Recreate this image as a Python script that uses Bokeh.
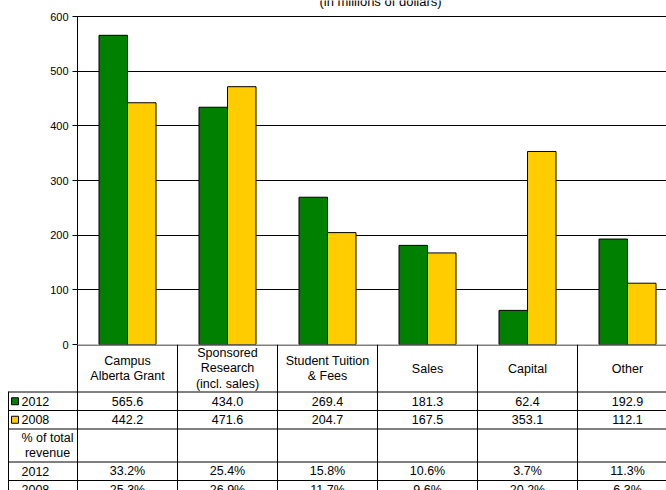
import numpy as np
from bokeh.plotting import figure
from bokeh.models import ColumnDataSource, Range1d, FixedTicker, Label
from bokeh.transform import dodge
from bokeh.core.properties import value
from bokeh.embed import file_html
from bokeh.resources import INLINE

# ---------------- data ----------------
categories = ["Campus\nAlberta Grant", "Sponsored\nResearch\n(incl. sales)",
              "Student Tuition\n& Fees", "Sales", "Capital", "Other"]
series_names = ["2012", "2008"]
values_2012 = [565.6, 434.0, 269.4, 181.3, 62.4, 192.9]
values_2008 = [442.2, 471.6, 204.7, 167.5, 353.1, 112.1]
pct_2012 = [33.2, 25.4, 15.8, 10.6, 3.7, 11.3]
pct_2008 = [25.3, 26.9, 11.7, 9.6, 20.2, 6.3]
y_ticks = [0, 100, 200, 300, 400, 500, 600]
title_text = "(in millions of dollars)"
pct_header = "% of total\nrevenue"
colors = ["#008000", "#FFCC00"]

# ---------------- layout constants ----------------
FONT = "Liberation Sans"
W = 666
BASE = 344         # screen y of value 0
TOP_PX = 16        # screen y of top tick
BOT_H = 146
LEFT = 77          # screen x of axis
CAT_W = 100.0      # px per category
n = len(categories)
ymax = max(y_ticks)
u_per_px = ymax / (BASE - TOP_PX)
x_end = (W - LEFT) / CAT_W

# ---------------- chart (drawn over the table, transparent) ----------------
top = figure(width=W, height=BASE + 8, output_backend="svg", toolbar_location=None,
             x_range=Range1d(-1 / CAT_W, x_end),
             y_range=Range1d(0, ymax + TOP_PX * u_per_px),
             x_axis_location=None, min_border_left=LEFT - 1, min_border_right=0,
             min_border_top=0, min_border_bottom=8)
top.outline_line_color = None
top.background_fill_color = None
top.border_fill_color = None
top.xgrid.visible = False
top.ygrid.grid_line_color = "black"
top.ygrid.grid_line_width = 1
ax = top.yaxis[0]
ax.ticker = FixedTicker(ticks=y_ticks)
ax.major_tick_out = 4
ax.major_tick_in = 1
ax.minor_tick_line_color = None
ax.axis_line_color = None
ax.major_tick_line_color = "black"
ax.major_label_text_font = FONT
ax.major_label_text_font_size = "11px"
ax.major_label_text_color = "black"
ax.major_label_standoff = 4

# axis line from 0 to the top tick
top.segment(x0=[0], y0=[0], x1=[0], y1=[ymax], line_color="black", line_width=1)

src = ColumnDataSource(dict(x=np.arange(n) + 0.5, v12=values_2012, v08=values_2008))
bw = 0.285
top.vbar(x=dodge("x", -bw / 2), top="v12", bottom=0, width=bw, source=src,
         fill_color=colors[0], line_color="black", line_width=1)
top.vbar(x=dodge("x", bw / 2), top="v08", bottom=0, width=bw, source=src,
         fill_color=colors[1], line_color="black", line_width=1)

title_y = ymax + (TOP_PX - 1) * u_per_px
top.add_layout(Label(x=(380 - LEFT) / CAT_W, y=title_y, text=title_text,
                     text_font=FONT, text_font_size="13px", text_color="black",
                     text_align="center", text_baseline="alphabetic"))

# ---------------- data table ----------------
bot = figure(width=W, height=BOT_H, output_backend="svg", toolbar_location=None,
             x_range=Range1d(-LEFT / CAT_W, x_end), y_range=Range1d(BOT_H, 0),
             x_axis_location=None, y_axis_location=None,
             min_border_left=0, min_border_right=0, min_border_top=0, min_border_bottom=0)
bot.outline_line_color = None
bot.grid.visible = False

header_h, row_h, pct_h = 47.0, 18.5, 33.0
edges = [0, header_h]
for h in [row_h, row_h, pct_h, row_h, row_h]:
    edges.append(edges[-1] + h)
left_edge = (8 - LEFT) / CAT_W

hx0 = [0.0] + [left_edge] * (len(edges) - 1)
hy = [e + 0.5 for e in edges]
bot.segment(x0=hx0, y0=hy, x1=[x_end] * len(hy), y1=hy, line_color="black", line_width=1)
vx = [left_edge] + list(range(n))
vy0 = [edges[1]] + [0.0] * n
bot.segment(x0=vx, y0=vy0, x1=vx, y1=[BOT_H] * len(vx), line_color="black", line_width=1)

txt = dict(text_font=value(FONT), text_font_size="12.5px", text_color="black")
cx = np.arange(n) + 0.5
bot.text(x=cx, y=[header_h / 2 + 0.5] * n, text=categories, text_align="center",
         text_baseline="middle", text_line_height=1.1, **txt)

def mid(i):
    return (edges[i] + edges[i + 1]) / 2 + 0.5

bot.text(x=cx, y=[mid(1)] * n, text=[f"{v:.1f}" for v in values_2012],
         text_align="center", text_baseline="middle", **txt)
bot.text(x=cx, y=[mid(2)] * n, text=[f"{v:.1f}" for v in values_2008],
         text_align="center", text_baseline="middle", **txt)
bot.text(x=cx, y=[mid(4)] * n, text=[f"{v:.1f}%" for v in pct_2012],
         text_align="center", text_baseline="middle", **txt)
bot.text(x=cx, y=[mid(5)] * n, text=[f"{v:.1f}%" for v in pct_2008],
         text_align="center", text_baseline="middle", **txt)

lab_x = (21 - LEFT) / CAT_W
bot.text(x=[lab_x] * 4, y=[mid(1), mid(2), mid(4), mid(5)],
         text=[series_names[0], series_names[1], series_names[0], series_names[1]],
         text_align="left", text_baseline="middle", **txt)
bot.text(x=[(47 - LEFT) / CAT_W], y=[mid(3)], text=[pct_header], text_align="center",
         text_baseline="middle", text_line_height=1.1, **txt)
bot.scatter(x=[(14.5 - LEFT) / CAT_W] * 2, y=[mid(1), mid(2)], marker="square", size=7,
            fill_color=colors, line_color="black", line_width=1)

bot.styles = {"position": "absolute", "top": f"{BASE}px", "left": "0px"}
top.styles = {"position": "absolute", "top": "0px", "left": "0px"}

open("out.html", "w").write(file_html([bot, top], INLINE))
